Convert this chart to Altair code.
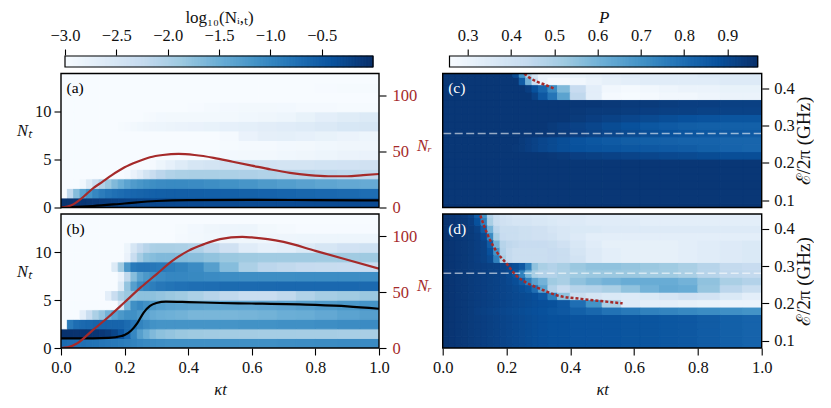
import altair as alt
import numpy as np
import pandas as pd

T = [0,.02,.04,.06,.08,.10,.12,.14,.16,.18,.20,.22,.24,.26,.28,.30,.33,.36,.40,.45,.50,.56,.62,.68,.74,.80,.87,.94,1]
N_EDGES = list(range(15))
E_EDGES = [.08,.09,.11,.13,.15,.17,.19,.21,.23,.25,.27,.29,.31,.33,.35,.37,.39,.41,.43,.44]

A = [
 [-.03,-.04,-.05,-.07,-.09,-.11,-.13,-.15,-.17,-.19,-.21,-.23,-.24,-.25,-.26,-.27,-.28,-.29,-.29,-.3,-.3,-.3,-.3,-.3,-.3,-.3,-.3,-.3],
 [-3,-2.2,-1.7,-1.35,-1.15,-1,-.88,-.8,-.74,-.69,-.65,-.62,-.6,-.58,-.56,-.55,-.54,-.54,-.54,-.55,-.56,-.57,-.59,-.61,-.63,-.65,-.67,-.7],
 [-3,-3,-3,-2.9,-2.6,-2.3,-2.05,-1.85,-1.65,-1.5,-1.35,-1.25,-1.18,-1.12,-1.08,-1.05,-1.03,-1.03,-1.05,-1.08,-1.12,-1.17,-1.23,-1.28,-1.33,-1.38,-1.42,-1.45],
 [-3]*10+[-2.95,-2.8,-2.65,-2.45,-2.3,-2.15,-2.05,-2,-1.98,-1.98,-2,-2.02,-2.05,-2.08,-2.1,-2.15,-2.18,-2.2],
 [-3]*14+[-2.95,-2.85,-2.75,-2.62,-2.5,-2.45,-2.42,-2.42,-2.43,-2.45,-2.45,-2.43,-2.42,-2.4],
 [-3]*19+[-2.97,-2.93,-2.92,-2.92,-2.9,-2.88,-2.85,-2.82,-2.8],
 [-3]*20+[-2.97,-2.95,-2.95,-2.93,-2.92,-2.9,-2.88,-2.88],
 [-3]*20+[-2.95,-2.8,-2.73,-2.72,-2.75,-2.78,-2.82,-2.85],
 [-3]*9+[-2.97,-2.95,-2.92,-2.9,-2.88,-2.87,-2.85,-2.83,-2.82,-2.8,-2.78,-2.75,-2.72,-2.68,-2.65,-2.62,-2.58,-2.52,-2.5],
 [-3]*13+[-2.97,-2.95,-2.93,-2.92,-2.92,-2.92,-2.92,-2.92,-2.9,-2.88,-2.85,-2.78,-2.7,-2.64,-2.6],
 [-3]*18+[-2.98,-2.96,-2.94,-2.92,-2.92,-2.93,-2.95,-2.96,-2.97,-2.97],
 [-3]*28,
 [-3]*25+[-2.98,-2.97,-2.97],
 [-3]*28,
]
B = [
 [-.68,-.7,-.72,-.74,-.76,-.78,-.8,-.82,-.84,-.86,-.9,-.95,-1,-1.03,-1.06,-1.08,-1.1,-1.1,-1.1,-1.1,-1.1,-1.1,-1.1,-1.08,-1.07,-1.06,-1.05,-1.05],
 [-.02,-.02,-.03,-.04,-.05,-.07,-.1,-.15,-.25,-.4,-.65,-1,-1.3,-1.5,-1.65,-1.75,-1.8,-1.85,-1.88,-1.9,-1.92,-1.93,-1.94,-1.94,-1.95,-1.95,-1.96,-1.97],
 [-3,-.85,-.7,-.66,-.63,-.6,-.6,-.6,-.6,-.6,-.68,-.8,-.95,-1.05,-1.12,-1.15,-1.15,-1.15,-1.15,-1.15,-1.15,-1.12,-1.12,-1.1,-1.1,-1.08,-1.06,-1.05],
 [-3,-3,-3,-2.7,-2.3,-2.0,-1.8,-1.55,-1.35,-1.2,-1.1,-1.1,-1.2,-1.35,-1.45,-1.5,-1.52,-1.55,-1.6,-1.6,-1.6,-1.58,-1.55,-1.5,-1.48,-1.42,-1.35,-1.3],
 [-3]*9+[-2.5,-1.6,-1.1,-1.0,-1.1,-1.2,-1.28,-1.33,-1.35,-1.38,-1.4,-1.4,-1.4,-1.38,-1.35,-1.3,-1.25,-1.2,-1.15],
 [-3]*7+[-2.7,-2.3,-2.0,-1.85,-1.8,-1.75,-1.75,-1.75,-1.8,-1.85,-1.9,-2.0,-2.1,-2.2,-2.3,-2.3,-2.2,-2.05,-1.95,-1.9,-1.85],
 [-3]*9+[-2.6,-1.8,-1.3,-1.05,-.95,-.9,-.82,-.78,-.75,-.72,-.7,-.68,-.67,-.66,-.65,-.65,-.65,-.65,-.66],
 [-3]*9+[-2.8,-2.2,-1.7,-1.35,-1.2,-1.1,-1.05,-1.0,-1.0,-1.02,-1.05,-1.07,-1.08,-1.08,-1.08,-1.07,-1.07,-1.07,-1.07],
 [-3]*8+[-2.6,-1.9,-1.2,-.85,-.8,-.8,-.82,-.85,-.9,-.95,-1.05,-1.3,-1.7,-2.0,-2.15,-2.2,-2.25,-2.27,-2.28,-2.28],
 [-3]*10+[-2.8,-2.3,-1.95,-1.75,-1.7,-1.65,-1.65,-1.68,-1.72,-1.78,-1.85,-1.88,-1.9,-1.9,-1.9,-1.9,-1.9,-1.88],
 [-3]*10+[-2.85,-2.5,-2.25,-2.1,-2.0,-1.98,-1.98,-2.0,-2.05,-2.2,-2.4,-2.65,-2.75,-2.7,-2.6,-2.5,-2.42,-2.38],
 [-3]*17+[-2.95,-2.92,-2.9,-2.88,-2.88,-2.88,-2.87,-2.85,-2.85,-2.85,-2.85],
 [-3]*17+[-2.97,-2.93,-2.88,-2.85,-2.85,-2.92,-2.96,-2.98,-2.98,-2.98,-2.98],
 [-3]*28,
]
C = [
 [.955]*28,
 [.95]*28, [.95]*28, [.95]*28, [.95]*28, [.95]*28, [.95]*28,
 [.95]*16+[.945,.94,.93,.925,.92,.915,.91,.905,.9,.895,.89,.89],
 [.95]*11+[.945,.94,.93,.92,.91,.9,.89,.88,.875,.87,.865,.86,.855,.85,.84,.83,.825],
 [.95]*12+[.94,.93,.92,.91,.9,.89,.875,.865,.855,.845,.84,.835,.83,.83,.825,.825],
 [.95]*16+[.945,.94,.93,.92,.91,.9,.89,.88,.87,.865,.86,.855],
 [.95]*16+[.94,.93,.92,.91,.895,.88,.865,.855,.845,.84,.84,.84],
 [.95]*18+[.94,.93,.92,.91,.9,.89,.88,.875,.87,.87],
 [.95]*18+[.945,.94,.94,.935,.93,.925,.925,.92,.92,.92],
 [.95]*20+[.945,.94,.94,.935,.93,.93,.925,.925],
 [.95]*14+[.92,.86,.78,.65,.45,.33,.27,.26,.27,.28,.28,.29,.30,.30],
 [.95]*13+[.93,.88,.82,.72,.58,.43,.33,.28,.27,.28,.29,.3,.3,.31,.31],
 [.95]*12+[.85,.6,.42,.3,.27,.27,.28,.3,.32,.33,.34,.34,.34,.34,.35,.35],
 [.95]*11+[.9,.7,.5,.38,.3,.3,.3,.31,.32,.33,.34,.34,.34,.34,.35,.35,.35],
]
D_BASE = [.96,.955,.95,.945,.94,.935,.93,.925,.92,.915,.91,.905,.9,.895,.89,.885,.88,.88,.875,.875,.875,.87,.87,.865,.86,.85,.84,.83]
D = [
 D_BASE, D_BASE, D_BASE, D_BASE, D_BASE,
 [.96,.955,.95,.945,.94,.93,.925,.92,.915,.91,.905,.9,.895,.89,.885,.88,.87,.86,.84,.82,.79,.77,.75,.74,.73,.72,.71,.7],
 [.96,.955,.95,.945,.94,.935,.93,.925,.92,.915,.91,.905,.9,.895,.89,.885,.88,.86,.8,.7,.5,.35,.33,.33,.32,.31,.3,.3],
 [.96,.955,.95,.945,.94,.935,.93,.925,.92,.915,.91,.905,.9,.895,.885,.86,.75,.55,.42,.38,.36,.35,.36,.38,.4,.39,.36,.33],
 [.96,.955,.95,.945,.94,.935,.93,.925,.92,.915,.91,.9,.89,.87,.8,.65,.48,.43,.47,.48,.5,.55,.6,.63,.62,.54,.46,.42],
 [.96,.955,.95,.945,.94,.935,.93,.925,.92,.915,.905,.89,.85,.75,.65,.6,.52,.5,.55,.58,.6,.62,.62,.62,.6,.55,.5,.48],
 [.96,.955,.95,.945,.94,.935,.93,.925,.92,.915,.9,.87,.75,.6,.5,.48,.48,.5,.52,.53,.53,.53,.52,.52,.5,.47,.45,.44],
 [.96,.955,.95,.945,.94,.935,.93,.925,.92,.915,.905,.89,.86,.75,.55,.5,.48,.5,.53,.55,.55,.54,.53,.52,.5,.47,.44,.43],
 [.96,.955,.95,.945,.94,.93,.92,.9,.75,.5,.44,.42,.42,.42,.42,.42,.43,.42,.39,.35,.33,.32,.32,.32,.33,.34,.35,.36],
 [.96,.955,.95,.945,.94,.93,.92,.88,.7,.48,.44,.42,.42,.42,.42,.42,.43,.42,.38,.35,.33,.32,.32,.32,.33,.34,.35,.36],
 [.96,.955,.95,.945,.94,.93,.92,.85,.6,.47,.45,.44,.43,.43,.43,.43,.42,.4,.37,.34,.32,.32,.32,.32,.33,.34,.35,.36],
 [.96,.955,.95,.945,.94,.93,.9,.72,.5,.43,.42,.42,.41,.41,.4,.4,.39,.37,.35,.33,.33,.33,.33,.33,.33,.33,.33,.33],
 [.96,.955,.95,.945,.94,.92,.85,.6,.46,.42,.42,.42,.41,.41,.4,.4,.38,.37,.36,.36,.35,.35,.35,.35,.35,.35,.35,.35],
 [.96,.955,.95,.945,.93,.88,.75,.5,.42,.4,.39,.38,.38,.38,.37,.37,.36,.35,.35,.34,.34,.34,.33,.33,.33,.33,.33,.33],
 [.96,.955,.95,.94,.92,.85,.7,.48,.42,.39,.38,.37,.37,.37,.36,.36,.35,.35,.35,.34,.34,.33,.33,.33,.33,.33,.33,.33],
]

NR_A_T = [0,.02,.04,.06,.08,.1,.13,.16,.2,.24,.28,.32,.37,.42,.48,.54,.6,.66,.72,.78,.84,.9,.95,1]
NR_A = [0,.8,3,7,12,17,23,29,36,41,45,47,48,47,44.5,41,37.5,34,31,29,28,28,29,30]
NT_A_T = [0,.05,.1,.2,.3,.4,.6,.8,1]
NT_A = [0,.06,.15,.42,.68,.78,.8,.77,.75]
NR_B_T = [0,.02,.05,.1,.15,.2,.25,.3,.35,.4,.45,.5,.57,.6,.65,.7,.8,.9,1]
NR_B = [0,.5,4,16,28,41,54,66,78,87,93,97.5,99.5,99,97.5,95,87,79,71]
NT_B_T = [0,.1,.15,.19,.2,.22,.24,.26,.28,.3,.33,.4,.5,.6,.8,.9,1]
NT_B = [1,1,1.05,1.25,1.35,1.8,2.6,3.7,4.4,4.7,4.85,4.8,4.7,4.65,4.5,4.35,4.1]
DOT_C_T = [.256,.27,.29,.32,.35]
DOT_C_E = [.44,.43,.42,.41,.399]
DOT_D_T = [.118,.141,.172,.199,.23,.266,.308,.36,.434,.496,.564]
DOT_D_E = [.436,.384,.335,.308,.275,.254,.238,.221,.212,.206,.2]
DASH_C_E = .279
DASH_D_E = .281
TICKS_N = [0,5,10]
TICKS_NR = [0,50,100]
TICKS_T = [0,.2,.4,.6,.8,1]
TICKS_E = [.1,.2,.3,.4]
TICKS_LOG = [-3,-2.5,-2,-1.5,-1,-.5]
TICKS_P = [.3,.4,.5,.6,.7,.8,.9]
LOG_DOM = [-3,0]
P_DOM = [.258,.97]
BLUES = ['#f7fbff','#deebf7','#c6dbef','#9ecae1','#6baed6','#4292c6','#2171b5','#08519c','#08306b']

FONT = 'Liberation Serif'
FS = 16.5
RED = '#a52a2a'
W_L, W_R, H = 318, 319, 134
TS = 7

def cscale(dom):
    return alt.Scale(domain=list(np.linspace(dom[0], dom[1], 9)), range=BLUES, clamp=True)

def heat_df(rows, y_edges):
    rec = []
    for i, r in enumerate(rows):
        for j, v in enumerate(r):
            rec.append(dict(x=T[j], x2=T[j+1], y=y_edges[i], y2=y_edges[i+1], v=v))
    return pd.DataFrame(rec)

XS = alt.Scale(domain=[0,1], nice=False, zero=False)

def xaxis(show):
    if show:
        return alt.Axis(values=TICKS_T, format='.1f', title='κt', titleFontStyle='italic', titleFontWeight='normal', labelFlush=False,
                        grid=False, tickSize=TS, tickColor='black', domain=False, labelPadding=4, titlePadding=6)
    return None

def frame(w):
    return alt.Chart(pd.DataFrame({'a':[0]})).mark_rect(stroke='black', strokeWidth=1.4, fillOpacity=0, clip=False).encode(
        x=alt.value(0), x2=alt.value(w), y=alt.value(0), y2=alt.value(H))

def panel_label(text, color):
    return alt.Chart(pd.DataFrame({'a':[text]})).mark_text(font=FONT, fontSize=15.5, color=color, align='left', baseline='middle').encode(
        x=alt.value(5.5), y=alt.value(14.5), text='a:N')

def left_panel(rows, nrt, nr, ntt, nt, label, show_x):
    sy = alt.Scale(domain=[0,14], nice=False, zero=False)
    heat = alt.Chart(heat_df(rows, N_EDGES)).mark_rect(strokeWidth=1, clip=True).encode(
        x=alt.X('x:Q', scale=XS, axis=xaxis(show_x)), x2='x2:Q',
        y=alt.Y('y:Q', scale=sy, axis=alt.Axis(values=TICKS_N, orient='left', title='Nₜ', titleAngle=0, titleFontStyle='italic', labelFlush=False,
                 titleFontWeight='normal', titleX=-37, titleY=57, titleBaseline='middle', titleAlign='center', grid=False, tickSize=TS, tickColor='black', domain=False, labelPadding=3)),
        y2='y2:Q',
        color=alt.Color('v:Q', scale=cscale(LOG_DOM), legend=None),
        stroke=alt.Stroke('v:Q', scale=cscale(LOG_DOM), legend=None))
    black = alt.Chart(pd.DataFrame({'x':ntt,'y':nt})).mark_line(color='black', strokeWidth=2.2, interpolate='monotone', clip=True).encode(
        x=alt.X('x:Q', scale=XS), y=alt.Y('y:Q', scale=sy, axis=None))
    red = alt.Chart(pd.DataFrame({'x':nrt,'y':nr})).mark_line(color=RED, strokeWidth=2.2, interpolate='monotone', clip=True).encode(
        x=alt.X('x:Q', scale=XS),
        y=alt.Y('y:Q', scale=alt.Scale(domain=[0,120], nice=False, zero=False),
                axis=alt.Axis(values=TICKS_NR, orient='right', title='Nᵣ', titleAngle=0, titleColor=RED, titleFontStyle='italic', titleFontWeight='normal', labelFlush=False,
                              titleX=45, titleY=71.5, titleBaseline='middle', titleAlign='center', labelColor=RED, grid=False, tickSize=TS, tickColor='black', domain=False, labelPadding=6)))
    return alt.layer(heat, black, red, panel_label(label, 'black'), frame(W_L)).resolve_scale(y='independent').properties(width=W_L, height=H)

def right_panel(rows, dt, de, dash, label, show_x):
    sy = alt.Scale(domain=[.08,.44], nice=False, zero=False)
    heat = alt.Chart(heat_df(rows, E_EDGES)).mark_rect(strokeWidth=1, clip=True).encode(
        x=alt.X('x:Q', scale=XS, axis=xaxis(show_x)), x2='x2:Q',
        y=alt.Y('y:Q', scale=sy, axis=alt.Axis(values=TICKS_E, format='.1f', orient='right', title='ℰ/2π (GHz)', titleFontWeight='normal', titleFontSize=19, labelFlush=False,
                titleAngle=270, titleX=52, grid=False, tickSize=TS, tickColor='black', domain=False, labelPadding=5)),
        y2='y2:Q',
        color=alt.Color('v:Q', scale=cscale(P_DOM), legend=None),
        stroke=alt.Stroke('v:Q', scale=cscale(P_DOM), legend=None))
    dashed = alt.Chart(pd.DataFrame({'y':[dash]})).mark_rule(color='white', opacity=.58, strokeWidth=1.6, strokeDash=[8,3.5]).encode(
        y=alt.Y('y:Q', scale=sy))
    dots = alt.Chart(pd.DataFrame({'x':dt,'y':de})).mark_line(color=RED, strokeWidth=2.5, strokeDash=[3,2], interpolate='monotone', clip=True).encode(
        x=alt.X('x:Q', scale=XS), y=alt.Y('y:Q', scale=sy))
    return alt.layer(heat, dashed, dots, panel_label(label, 'white'), frame(W_R)).properties(width=W_R, height=H)

def cbar(dom, ticks, fmt, title, title_style, w, r0, r1):
    edges = np.linspace(dom[0], dom[1], 257)
    df = pd.DataFrame({'x':edges[:-1], 'x2':edges[1:], 'v':(edges[:-1]+edges[1:])/2})
    bar = alt.Chart(df).mark_rect(strokeWidth=1).encode(
        x=alt.X('x:Q', scale=alt.Scale(domain=dom, range=[r0, r1], nice=False, zero=False),
                axis=alt.Axis(values=ticks, format=fmt, orient='top', title=title, titleFontStyle=title_style, titleFontWeight='normal', titleFontSize=17, labelFlush=False,
                              grid=False, tickSize=TS, tickColor='black', domain=False, labelPadding=6, titlePadding=1)),
        x2='x2:Q',
        color=alt.Color('v:Q', scale=cscale(dom), legend=None),
        stroke=alt.Stroke('v:Q', scale=cscale(dom), legend=None))
    fr = alt.Chart(pd.DataFrame({'a':[0]})).mark_rect(stroke='black', strokeWidth=1.2, fillOpacity=0, clip=False).encode(
        x=alt.value(r0), x2=alt.value(r1), y=alt.value(0), y2=alt.value(11))
    return alt.layer(bar, fr).properties(width=w, height=11)

chart = alt.concat(
    cbar(LOG_DOM, TICKS_LOG, '.1f', 'log₁₀(Nᵢ,ₜ)', 'normal', W_L, 4, 312),
    cbar(P_DOM, TICKS_P, '.1f', 'P', 'italic', W_R, 6.8, 315),
    left_panel(A, NR_A_T, NR_A, NT_A_T, NT_A, '(a)', False),
    right_panel(C, DOT_C_T, DOT_C_E, DASH_C_E, '(c)', False),
    left_panel(B, NR_B_T, NR_B, NT_B_T, NT_B, '(b)', True),
    right_panel(D, DOT_D_T, DOT_D_E, DASH_D_E, '(d)', True),
    columns=2, spacing=alt.RowColnumber(row=6.5, column=63.7), bounds='flush'
).resolve_scale(color='independent', stroke='independent', x='independent', y='independent').properties(
    padding={'left':8,'top':0,'right':0,'bottom':0}
).configure_view(stroke=None).configure_axis(
    labelFont=FONT, titleFont=FONT, labelFontSize=FS, titleFontSize=FS, tickWidth=1.1, labelColor='#111', titleColor='#111')

chart.save("out.html", embed_options={"renderer": "svg", "actions": False})
